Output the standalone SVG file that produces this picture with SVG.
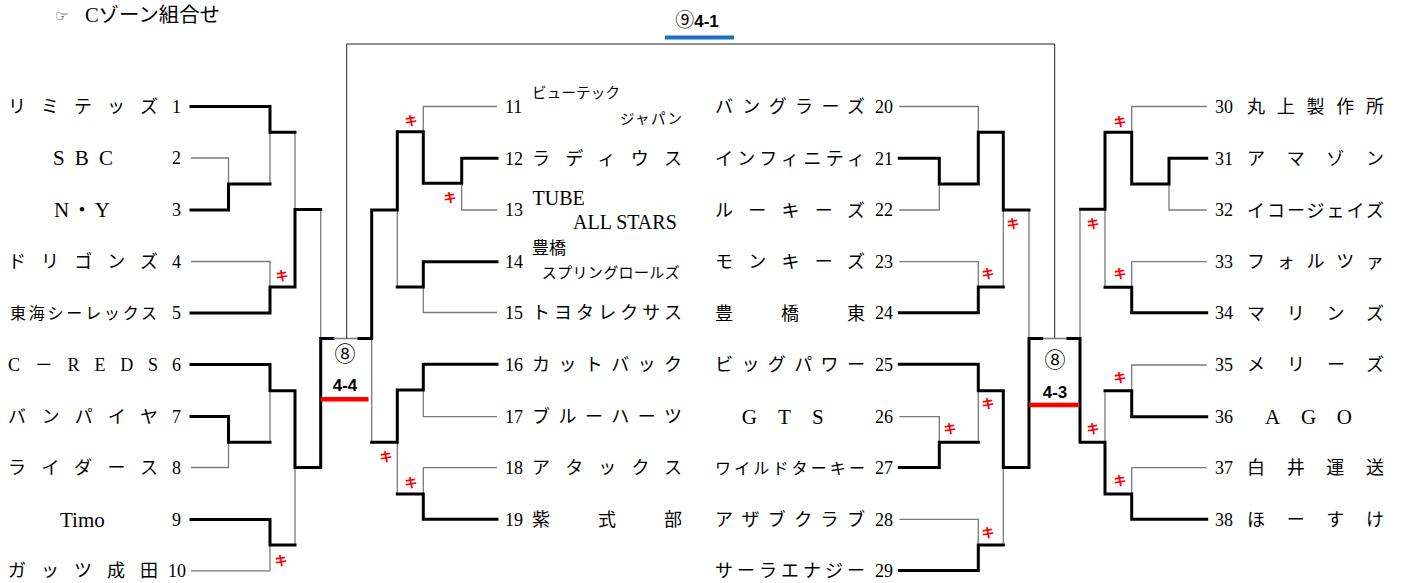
<svg xmlns="http://www.w3.org/2000/svg" width="1404" height="583" viewBox="0 0 1404 583">
<style>
.thk{stroke:#000;stroke-width:3;fill:none;stroke-linejoin:miter;stroke-linecap:square}
.thn{stroke:#7a7a7a;stroke-width:1.3;fill:none}
.frm{stroke:#222;stroke-width:1;fill:none}
.nm{font-family:"Liberation Serif","Noto Sans CJK JP",serif;font-size:18px;fill:#000}
.no{font-family:"Liberation Serif","Noto Sans CJK JP",serif;font-size:18px;fill:#000}
.ki{font-family:"Noto Sans CJK JP",sans-serif;font-size:13px;font-weight:bold;fill:#f00;text-anchor:middle}
.sc{font-family:"Liberation Sans","Noto Sans CJK JP",sans-serif;font-weight:bold;font-size:17px;text-anchor:middle;fill:#000}
.ci{font-family:"Noto Sans CJK JP",sans-serif;font-size:21px;text-anchor:middle;fill:#000}
</style>

<g id="title">
<text x="55" y="21" style="font-family:'DejaVu Sans',sans-serif;font-size:15px">☞</text>
<text x="85" y="22" style="font-family:'Liberation Serif','Noto Sans CJK JP',serif;font-size:20px" textLength="135" lengthAdjust="spacingAndGlyphs">Cゾーン組合せ</text>
</g>

<g id="connectors">
<path class="thn" d="M191,158 H228.5 V184 M270,184 V132.3 M295,132.3 V209.5 M191,261.5 H270 V287 M320.7,209.5 V338.5 M191,467.5 H228.5 V442.3 M270,442.3 V390.7 M295,467.5 V545 M191,570.8 H270 V545"/>
<path class="thk" d="M191,106.5 H270 V132.3 H295 M191,210 H228.5 V184 H270 M191,313 H270 V287 H295 V209.5 H320.7 M191,364.5 H270 V390.7 H295 V467.5 H320.7 V338.5 H333 M191,416.5 H228.5 V442.3 H270 M191,519.5 H270 V545 H295"/>
<path class="thn" d="M423.3,131.7 V106.5 H497 M461.7,183.3 V210 H497 M397.3,210 V287 M423.3,287 V312.5 H497 M371.7,338.5 V442.3 M423.3,390 V416.7 H497 M397.3,442.3 V494 M423.3,494 V467.7 H497 M333,338.5 H359"/>
<path class="thk" d="M371.7,338.5 V210 H397.3 V131.7 H423.3 V183.3 H461.7 V158.3 H497 M397.3,287 H423.3 V261.7 H497 M371.7,442.3 H397.3 V390 H423.3 V364.3 H497 M397.3,494 H423.3 V519.3 H497 M359,338.5 H371.7"/>
<path class="frm" d="M346.7,338.5 V44 H1054.7 V338.5"/>
<path class="thn" d="M899.3,106.5 H978.3 V132.3 M899.3,210 H939.3 V184 M1003.3,210 V287 M899.3,261.7 H978.3 V287 M1029,210 V338.5 M978.3,390.7 V442.3 M899.3,416.7 H939.3 V442.3 M1003.3,467.5 V545 M899.3,519.3 H978.3 V545 M1041.7,338.5 H1068"/>
<path class="thk" d="M899.3,158.3 H939.3 V184 H978.3 V132.3 H1003.3 V210 H1029 M899.3,312.7 H978.3 V287 H1003.3 M899.3,364.3 H978.3 V390.7 H1003.3 V467.5 H1029 V338.5 H1041.7 M899.3,467.5 H939.3 V442.3 H978.3 M899.3,570.5 H978.3 V545 H1003.3"/>
<path class="thn" d="M1080,209.3 V338.5 M1131.7,132.3 V106.5 H1206.7 M1169,184 V210 H1206.7 M1105,209.3 V287.3 M1131.7,287.3 V261.7 H1206.7 M1105,390.7 V442.3 M1131.7,390.7 V365 H1206.7 M1131.7,494 V467.7 H1206.7"/>
<path class="thk" d="M1068,338.5 H1080 V442.3 H1105 V494 H1131.7 V519.3 H1206.7 M1080.7,209.3 H1105 V132.3 H1131.7 V184 H1169 V158.3 H1206.7 M1105,287.3 H1131.7 V312.7 H1206.7 M1105,390.7 H1131.7 V416.7 H1206.7"/>
</g>

<g id="kiken">
<text class="ki" x="282" y="280">キ</text>
<text class="ki" x="281" y="565">キ</text>
<text class="ki" x="411" y="125">キ</text>
<text class="ki" x="450" y="202">キ</text>
<text class="ki" x="386" y="461">キ</text>
<text class="ki" x="411" y="487">キ</text>
<text class="ki" x="1013" y="228">キ</text>
<text class="ki" x="988" y="278">キ</text>
<text class="ki" x="988" y="408">キ</text>
<text class="ki" x="950" y="433">キ</text>
<text class="ki" x="988" y="537">キ</text>
<text class="ki" x="1120" y="126">キ</text>
<text class="ki" x="1093" y="228">キ</text>
<text class="ki" x="1120" y="278">キ</text>
<text class="ki" x="1120" y="382">キ</text>
<text class="ki" x="1093" y="433">キ</text>
<text class="ki" x="1120" y="485">キ</text>
</g>

<g id="match-final">
<text x="697" y="27" text-anchor="middle" style="font-family:'Noto Sans CJK JP',sans-serif;font-size:19px">⑨<tspan style="font-family:'Liberation Sans Narrow','Liberation Sans',sans-serif;font-weight:bold;font-size:17px">4-1</tspan></text>
<line x1="665" y1="37.5" x2="734" y2="37.5" stroke="#1b70bd" stroke-width="4"/>
</g>
<g id="match-left">
<text class="ci" x="345" y="361">⑧</text>
<text class="sc" x="345" y="391">4-4</text>
<line x1="320.7" y1="399.3" x2="368.5" y2="399.3" stroke="#f00" stroke-width="4.5"/>
</g>
<g id="match-right">
<text class="ci" x="1055" y="367">⑧</text>
<text class="sc" x="1055" y="398">4-3</text>
<line x1="1029" y1="405" x2="1078.5" y2="405" stroke="#f00" stroke-width="4.5"/>
</g>

<g id="t1"><text class="nm" x="8" y="113" textLength="150" lengthAdjust="spacing">リミテッズ</text><text class="no" x="181" y="112.5" text-anchor="end">1</text></g>
<g id="t2"><text class="nm" x="53" y="165" style="font-size:21px" textLength="60" lengthAdjust="spacing">SBC</text><text class="no" x="181" y="164" text-anchor="end">2</text></g>
<g id="t3"><text class="nm" x="54" y="217" style="font-size:21px" textLength="56" lengthAdjust="spacing">N・Y</text><text class="no" x="181" y="216" text-anchor="end">3</text></g>
<g id="t4"><text class="nm" x="8" y="268" textLength="150" lengthAdjust="spacing">ドリゴンズ</text><text class="no" x="181" y="267.5" text-anchor="end">4</text></g>
<g id="t5"><text class="nm" x="10" y="319" style="font-size:16px" textLength="147" lengthAdjust="spacing">東海シーレックス</text><text class="no" x="181" y="319" text-anchor="end">5</text></g>
<g id="t6"><text class="nm" x="8" y="371" textLength="150" lengthAdjust="spacing">C－REDS</text><text class="no" x="181" y="370.5" text-anchor="end">6</text></g>
<g id="t7"><text class="nm" x="8" y="423" textLength="150" lengthAdjust="spacing">バンパイヤ</text><text class="no" x="181" y="422.5" text-anchor="end">7</text></g>
<g id="t8"><text class="nm" x="8" y="474" textLength="150" lengthAdjust="spacing">ライダース</text><text class="no" x="181" y="473.5" text-anchor="end">8</text></g>
<g id="t9"><text class="nm" x="60" y="527" style="font-size:21px">Timo</text><text class="no" x="181" y="525.5" text-anchor="end">9</text></g>
<g id="t10"><text class="nm" x="8" y="577" textLength="150" lengthAdjust="spacing">ガッツ成田</text><text class="no" x="186" y="577" text-anchor="end">10</text></g>

<g id="t11"><text class="no" x="505" y="112.5">11</text><text class="nm" x="532" y="98" style="font-size:14.5px" textLength="88" lengthAdjust="spacing">ビューテック</text><text class="nm" x="620" y="124" style="font-size:14.5px" textLength="62" lengthAdjust="spacing">ジャパン</text></g>
<g id="t12"><text class="no" x="505" y="164.5">12</text><text class="nm" x="532" y="165" textLength="150" lengthAdjust="spacing">ラディウス</text></g>
<g id="t13"><text class="no" x="505" y="216">13</text><text class="nm" x="532.5" y="205" style="font-size:20px">TUBE</text><text class="nm" x="573" y="228.5" style="font-size:20px">ALL STARS</text></g>
<g id="t14"><text class="no" x="505" y="268">14</text><text class="nm" x="532" y="254" style="font-size:17px" textLength="34" lengthAdjust="spacing">豊橋</text><text class="nm" x="541.7" y="278" style="font-size:15px" textLength="138" lengthAdjust="spacing">スプリングロールズ</text></g>
<g id="t15"><text class="no" x="505" y="318.5">15</text><text class="nm" x="532" y="318.5" textLength="150" lengthAdjust="spacing">トヨタレクサス</text></g>
<g id="t16"><text class="no" x="505" y="370.5">16</text><text class="nm" x="532" y="371" textLength="150" lengthAdjust="spacing">カットバック</text></g>
<g id="t17"><text class="no" x="505" y="423">17</text><text class="nm" x="532" y="423" textLength="150" lengthAdjust="spacing">ブルーハーツ</text></g>
<g id="t18"><text class="no" x="505" y="474">18</text><text class="nm" x="532" y="474" textLength="150" lengthAdjust="spacing">アタックス</text></g>
<g id="t19"><text class="no" x="505" y="525.5">19</text><text class="nm" x="532" y="526" textLength="150" lengthAdjust="spacing">紫式部</text></g>

<g id="t20"><text class="nm" x="715" y="113" textLength="150" lengthAdjust="spacing">バングラーズ</text><text class="no" x="875" y="112.5">20</text></g>
<g id="t21"><text class="nm" x="715" y="165" textLength="150" lengthAdjust="spacing">インフィニティ</text><text class="no" x="875" y="164.5">21</text></g>
<g id="t22"><text class="nm" x="715" y="216.5" textLength="150" lengthAdjust="spacing">ルーキーズ</text><text class="no" x="875" y="216">22</text></g>
<g id="t23"><text class="nm" x="715" y="268" textLength="150" lengthAdjust="spacing">モンキーズ</text><text class="no" x="875" y="267.5">23</text></g>
<g id="t24"><text class="nm" x="715" y="319.5" textLength="150" lengthAdjust="spacing">豊橋東</text><text class="no" x="875" y="319">24</text></g>
<g id="t25"><text class="nm" x="715" y="371" textLength="150" lengthAdjust="spacing">ビッグパワー</text><text class="no" x="875" y="370.5">25</text></g>
<g id="t26"><text class="nm" x="741.7" y="424" style="font-size:21px" textLength="82" lengthAdjust="spacing">GTS</text><text class="no" x="875" y="423">26</text></g>
<g id="t27"><text class="nm" x="715" y="473.5" style="font-size:16px" textLength="150" lengthAdjust="spacing">ワイルドターキー</text><text class="no" x="875" y="474">27</text></g>
<g id="t28"><text class="nm" x="715" y="526" textLength="150" lengthAdjust="spacing">アザブクラブ</text><text class="no" x="875" y="525.5">28</text></g>
<g id="t29"><text class="nm" x="715" y="577" textLength="150" lengthAdjust="spacing">サーラエナジー</text><text class="no" x="875" y="577">29</text></g>

<g id="t30"><text class="no" x="1215" y="112.5">30</text><text class="nm" x="1247" y="113" textLength="137" lengthAdjust="spacing">丸上製作所</text></g>
<g id="t31"><text class="no" x="1215" y="164.5">31</text><text class="nm" x="1247" y="165" textLength="137" lengthAdjust="spacing">アマゾン</text></g>
<g id="t32"><text class="no" x="1215" y="216">32</text><text class="nm" x="1247" y="216.5" textLength="137" lengthAdjust="spacing">イコージェイズ</text></g>
<g id="t33"><text class="no" x="1215" y="268">33</text><text class="nm" x="1247" y="268" textLength="137" lengthAdjust="spacing">フォルツァ</text></g>
<g id="t34"><text class="no" x="1215" y="319">34</text><text class="nm" x="1247" y="319.5" textLength="137" lengthAdjust="spacing">マリンズ</text></g>
<g id="t35"><text class="no" x="1215" y="371">35</text><text class="nm" x="1247" y="371" textLength="137" lengthAdjust="spacing">メリーズ</text></g>
<g id="t36"><text class="no" x="1215" y="423">36</text><text class="nm" x="1265" y="424" style="font-size:21px" textLength="87" lengthAdjust="spacing">AGO</text></g>
<g id="t37"><text class="no" x="1215" y="474">37</text><text class="nm" x="1247" y="474" textLength="137" lengthAdjust="spacing">白井運送</text></g>
<g id="t38"><text class="no" x="1215" y="525.5">38</text><text class="nm" x="1247" y="526" textLength="137" lengthAdjust="spacing">ほーすけ</text></g>
</svg>
